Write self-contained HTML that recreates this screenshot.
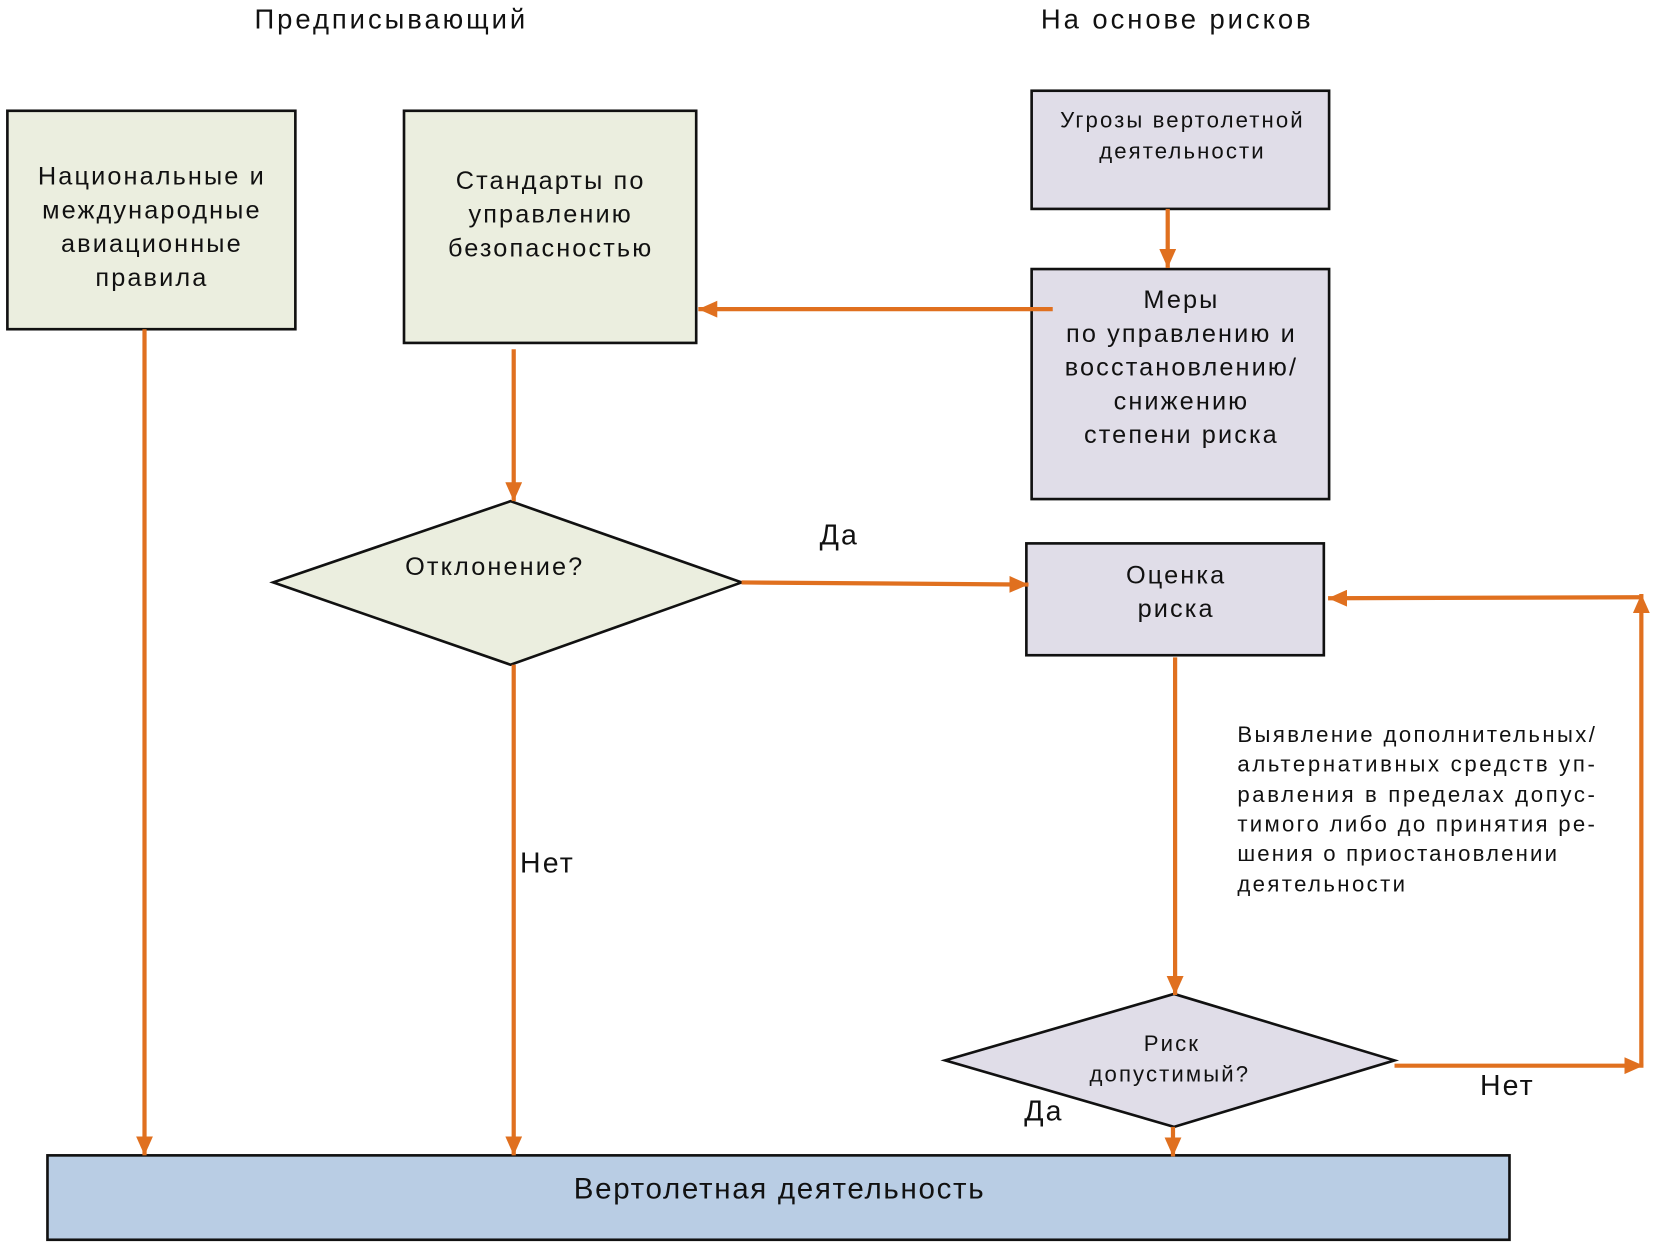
<!DOCTYPE html>
<html><head><meta charset="utf-8"><style>
html,body{margin:0;padding:0;background:#fff;width:1654px;height:1244px;overflow:hidden}
svg{display:block}
text{font-family:"Liberation Sans","DejaVu Sans",sans-serif;fill:#111}
</style></head><body>
<svg width="1654" height="1244" viewBox="0 0 1568 1179" preserveAspectRatio="none" xmlns="http://www.w3.org/2000/svg">
<defs>
<marker id="a" markerWidth="4.5" markerHeight="4" refX="4.5" refY="2" orient="auto" markerUnits="strokeWidth"><path d="M0,0 L4.5,2 L0,4 z" fill="#e0701f"/></marker>
</defs>
<g font-size="26" text-anchor="middle" letter-spacing="2.8">
<text x="371" y="27">Предписывающий</text>
<text x="1116" y="27">На основе рисков</text>
</g>
<g stroke="#111" stroke-width="2.5">
<rect x="7" y="105" width="273" height="207" fill="#ebeedf"/>
<rect x="383" y="105" width="277" height="220" fill="#ebeedf"/>
<rect x="978" y="86" width="282" height="112" fill="#e0dde8"/>
<rect x="978" y="255" width="282" height="218" fill="#e0dde8"/>
<rect x="973" y="515" width="282" height="106" fill="#e0dde8"/>
<polygon points="259,552 484,475 703,552 484,630" fill="#ebeedf"/>
<polygon points="896,1005 1113,942 1322,1005 1113,1068" fill="#e0dde8"/>
<rect x="45" y="1095" width="1386" height="80" fill="#b9cde4"/>
</g>
<g font-size="24" text-anchor="middle" letter-spacing="2">
<text x="144" y="175">Национальные и</text>
<text x="144" y="207">международные</text>
<text x="144" y="239">авиационные</text>
<text x="144" y="271">правила</text>
<text x="522" y="179">Стандарты по</text>
<text x="522" y="211">управлению</text>
<text x="522" y="243">безопасностью</text>
<text x="1120" y="292">Меры</text>
<text x="1120" y="324">по управлению и</text>
<text x="1120" y="356">восстановлению/</text>
<text x="1120" y="388">снижению</text>
<text x="1120" y="420">степени риска</text>
<text x="1115" y="553">Оценка</text>
<text x="1115" y="585">риска</text>
<text x="469" y="545">Отклонение?</text>
</g>
<g font-size="21" text-anchor="middle" letter-spacing="2">
<text x="1121" y="121">Угрозы вертолетной</text>
<text x="1121" y="150">деятельности</text>
<text x="1111" y="996">Риск</text>
<text x="1109" y="1025">допустимый?</text>
</g>
<g font-size="21">
<text x="1173" y="703" textLength="339" lengthAdjust="spacing">Выявление дополнительных/</text>
<text x="1173" y="731" textLength="339" lengthAdjust="spacing">альтернативных средств уп-</text>
<text x="1173" y="760" textLength="339" lengthAdjust="spacing">равления в пределах допус-</text>
<text x="1173" y="788" textLength="339" lengthAdjust="spacing">тимого либо до принятия ре-</text>
<text x="1173" y="816" textLength="303" lengthAdjust="spacing">шения о приостановлении</text>
<text x="1173" y="845" textLength="159" lengthAdjust="spacing">деятельности</text>
</g>
<g font-size="27" letter-spacing="2">
<text x="777" y="516">Да</text>
<text x="493" y="827">Нет</text>
<text x="1403" y="1038">Нет</text>
<text x="971" y="1062">Да</text>
</g>
<text x="739" y="1136" font-size="28" text-anchor="middle" letter-spacing="1.6">Вертолетная деятельность</text>
<g stroke="#e0701f" stroke-width="4" fill="none">
<line x1="1107" y1="198" x2="1107" y2="254" marker-end="url(#a)"/>
<line x1="998" y1="293" x2="662" y2="293" marker-end="url(#a)"/>
<line x1="487" y1="331" x2="487" y2="475" marker-end="url(#a)"/>
<line x1="703" y1="552" x2="975" y2="554" marker-end="url(#a)"/>
<line x1="1114" y1="623" x2="1114" y2="943" marker-end="url(#a)"/>
<line x1="1322" y1="1010" x2="1558" y2="1010" marker-end="url(#a)"/>
<line x1="1556" y1="1010" x2="1556" y2="563" marker-end="url(#a)"/>
<line x1="1556" y1="566" x2="1259" y2="567" marker-end="url(#a)"/>
<line x1="1112" y1="1068" x2="1112" y2="1096" marker-end="url(#a)"/>
<line x1="137" y1="312" x2="137" y2="1095" marker-end="url(#a)"/>
<line x1="487" y1="630" x2="487" y2="1095" marker-end="url(#a)"/>
</g>
</svg>
</body></html>
